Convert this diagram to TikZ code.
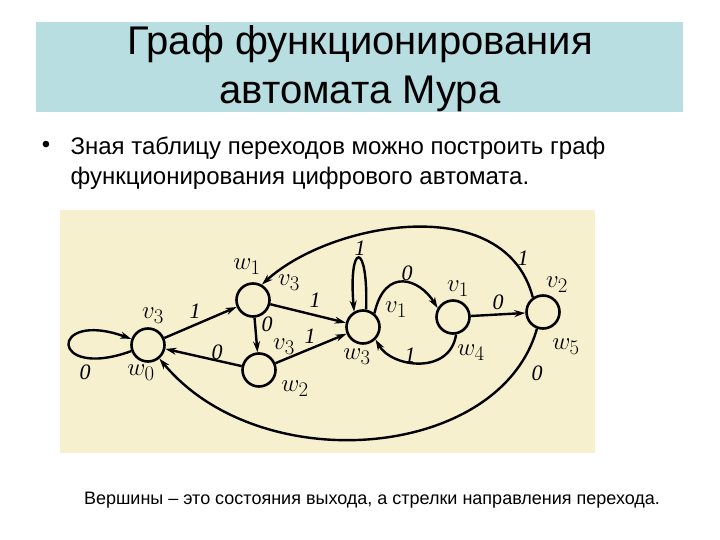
\documentclass[tikz,border=0pt]{standalone}
\usepackage{fontspec}
\setmainfont{Liberation Sans}
\newfontfamily\labfont{Liberation Serif}
\usetikzlibrary{arrows.meta}
\definecolor{faixa}{RGB}{185,222,226}
\definecolor{papel}{RGB}{247,240,207}
\tikzset{
  estado/.style={circle, draw, line width=2.6pt, minimum size=33pt, inner sep=0pt},
  seta/.style={line width=2.4pt, -{Stealth[length=11pt,width=7pt]}},
  rot/.style={font=\labfont\itshape\fontsize{22}{22}\selectfont, inner sep=0pt},
  marca/.style={font=\fontsize{28}{28}\selectfont, inner sep=0pt},
}
\begin{document}
\begin{tikzpicture}[x=1pt,y=1pt]
      \useasboundingbox (0,0) rectangle (720,-540);
      % Titulo
      \fill[faixa] (36,-22) rectangle (683,-112);
      \node[font=\fontsize{40}{49}\selectfont, align=center] (titulo) at (360,-69)
            {Граф функционирования\\автомата Мура};
      % Texto
      \node[font=\fontsize{24}{30}\selectfont] (ponto) at (46,-147) {•};
      \node[font=\fontsize{24}{30}\selectfont, align=left, anchor=north west] (texto) at (67,-133)
            {Зная таблицу переходов можно построить граф\\функционирования цифрового автомата.};
      % Fundo da figura
      \fill[papel] (60,-210) rectangle (595,-453);

      % Estados
      \node[estado] (w0) at (148,-345) {};
      \node[estado] (w1) at (253,-300) {};
      \node[estado] (w2) at (259,-370) {};
      \node[estado] (w3) at (363,-327) {};
      \node[estado] (w4) at (453,-317) {};
      \node[estado] (w5) at (543,-312) {};

      % Transicoes
      \draw[seta] (w0.200) to[out=200, in=160, distance=88pt] (w0.160);
      \draw[seta] (w0) -- (w1);
      \draw[seta] (w1) -- (w2);
      \draw[seta] (w2) -- (w0);
      \draw[seta] (w1) -- (w3);
      \draw[seta] (w2) -- (w3);
      \draw[seta] (w3.80) to[out=88, in=95, distance=70pt] (w3.120);
      \draw[seta] (w3.50) .. controls (385,-266) and (420,-279) .. (w4.150);
      \draw[seta] (w4.280) .. controls (450,-375) and (392,-368) .. (w3.-45);
      \draw[seta] (w4) -- (w5);
      \draw[seta] (w5.125) .. controls (505,-190) and (330,-222) .. (w1.60);
      \draw[seta] (w5.250) .. controls (500,-460) and (260,-480) .. (w0.-50);

      % Marcas dos estados
      \node[marca] (v0) at (153,-316) {$v_3$};
      \node[marca] (m0) at (141,-373) {$w_0$};
      \node[marca] (v1) at (289,-283) {$v_3$};
      \node[marca] (m1) at (247,-267) {$w_1$};
      \node[marca] (v2) at (284,-347) {$v_3$};
      \node[marca] (m2) at (295,-389) {$w_2$};
      \node[marca] (v3) at (396,-310) {$v_1$};
      \node[marca] (m3) at (357,-357) {$w_3$};
      \node[marca] (v4) at (458,-289) {$v_1$};
      \node[marca] (m4) at (471,-353) {$w_4$};
      \node[marca] (v5) at (557,-285) {$v_2$};
      \node[marca] (m5) at (566,-347) {$w_5$};

      % Entradas
      \node[rot] (x00) at (85,-372)  {0};
      \node[rot] (x01) at (195,-311) {1};
      \node[rot] (x12) at (267,-324) {0};
      \node[rot] (x13) at (315,-300) {1};
      \node[rot] (x20) at (217,-352) {0};
      \node[rot] (x23) at (310,-336) {1};
      \node[rot] (x33) at (360,-248) {1};
      \node[rot] (x34) at (407,-273) {0};
      \node[rot] (x43) at (410,-355) {1};
      \node[rot] (x45) at (498,-302) {0};
      \node[rot] (x51) at (523,-258) {1};
      \node[rot] (x50) at (537,-373) {0};

      % Legenda
      \node[font=\fontsize{18}{22}\selectfont] (legenda) at (372,-500)
            {Вершины – это состояния выхода, а стрелки направления перехода.};
\end{tikzpicture}
\end{document}
